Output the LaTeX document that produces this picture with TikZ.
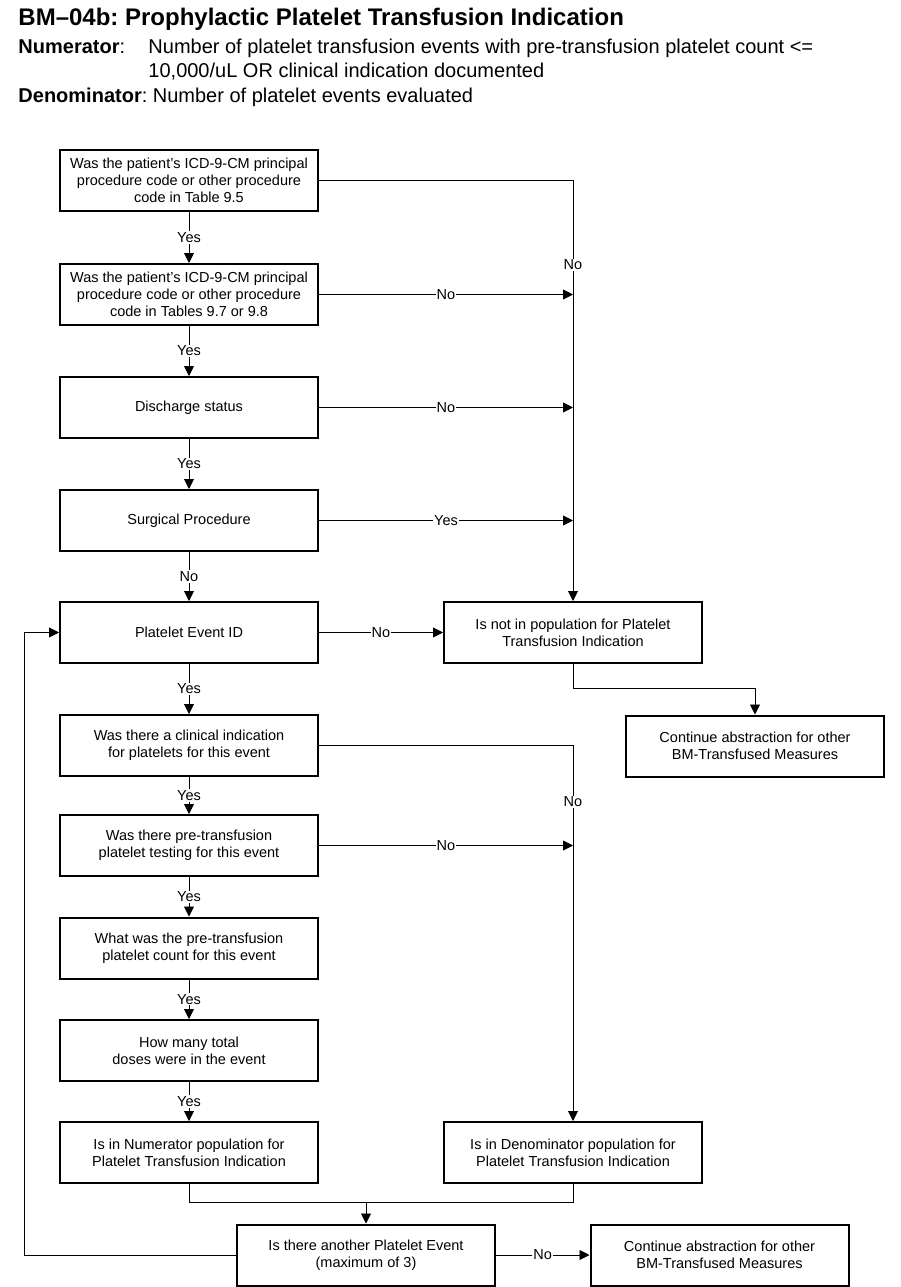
\documentclass[tikz,border=0pt]{standalone}
\usepackage{fontspec}
\setmainfont{Liberation Sans}
\usetikzlibrary{arrows.meta}
\frenchspacing

\newcommand\bmtitlefont{\fontsize{24}{28}\selectfont\bfseries}
\newcommand\bmsubfont{\fontsize{20}{24}\selectfont}
\newcommand\bmboxfont{\fontsize{14.5}{17}\selectfont}

\begin{document}
\begin{tikzpicture}[x=1pt,y=-1pt,
  box/.style={draw, line width=2pt, minimum width=258pt, minimum height=61pt,
    inner sep=2pt, align=center, font=\bmboxfont},
  lab/.style={fill=white, inner sep=1pt, font=\bmboxfont},
  arr/.style={-{Triangle[length=10pt,width=10pt]}},
  every path/.style={line width=0.9pt}]

\fill[white] (0,0) rectangle (901,1287);
\useasboundingbox (0,0) rectangle (901,1287);

% heading
\node[anchor=base west, inner sep=0pt] (title) at (18,26) {\bmtitlefont BM–04b: Prophylactic Platelet Transfusion Indication};
\node[anchor=base west, inner sep=0pt] (numhead) at (18,54) {\bmsubfont\textbf{Numerator}:};
\node[anchor=base west, inner sep=0pt] (numline1) at (148,54) {\bmsubfont Number of platelet transfusion events with pre-transfusion platelet count <=};
\node[anchor=base west, inner sep=0pt] (numline2) at (148,78) {\bmsubfont 10,000/uL OR clinical indication documented};
\node[anchor=base west, inner sep=0pt] (denhead) at (18,103) {\bmsubfont\textbf{Denominator}: Number of platelet events evaluated};

% left column
\node[box] at (189,180.5) (q1) {Was the patient’s ICD-9-CM principal\\procedure code or other procedure\\code in Table 9.5};
\node[box] at (189,294.5) (q2) {Was the patient’s ICD-9-CM principal\\procedure code or other procedure\\code in Tables 9.7 or 9.8};
\node[box] at (189,407.5) (q3) {Discharge status};
\node[box] at (189,520.5) (q4) {Surgical Procedure};
\node[box] at (189,632.5) (q5) {Platelet Event ID};
\node[box] at (189,745.5) (q6) {Was there a clinical indication\\for platelets for this event};
\node[box] at (189,845.5) (q7) {Was there pre-transfusion\\platelet testing for this event};
\node[box] at (189,948) (q8) {What was the pre-transfusion\\platelet count for this event};
\node[box] at (189,1050.5) (q9) {How many total\\doses were in the event};
\node[box] at (189,1152.5) (num) {Is in Numerator population for\\Platelet Transfusion Indication};

% right column
\node[box] at (573,632.5) (nopop) {Is not in population for Platelet\\Transfusion Indication};
\node[box] at (755,746) (cont1) {Continue abstraction for other\\BM-Transfused Measures};
\node[box] at (573,1152.5) (den) {Is in Denominator population for\\Platelet Transfusion Indication};

% bottom row
\node[box] at (366,1255) (q11) {Is there another Platelet Event\\(maximum of 3)};
\node[box] at (719.5,1255) (cont2) {Continue abstraction for other\\BM-Transfused Measures};

\coordinate (join) at (366,1202.5);
\coordinate (back) at (24,1255);

% main flow
\draw[arr] (q1) -- node[lab] {Yes} (q2);
\draw[arr] (q2) -- node[lab] {Yes} (q3);
\draw[arr] (q3) -- node[lab] {Yes} (q4);
\draw[arr] (q4) -- node[lab] {No} (q5);
\draw[arr] (q5) -- node[lab] {Yes} (q6);
\draw[arr] (q6) -- node[lab] {Yes} (q7);
\draw[arr] (q7) -- node[lab] {Yes} (q8);
\draw[arr] (q8) -- node[lab] {Yes} (q9);
\draw[arr] (q9) -- node[lab] {Yes} (num);

% exits to the right
\draw[arr] (q1) -| node[lab, pos=0.6] {No} (nopop);
\draw[arr] (q2) -- node[lab] {No} (q2 -| nopop);
\draw[arr] (q3) -- node[lab] {No} (q3 -| nopop);
\draw[arr] (q4) -- node[lab] {Yes} (q4 -| nopop);
\draw[arr] (q5) -- node[lab] {No} (nopop);
\draw[arr] (nopop.south) -- ++(0,24) -| (cont1.north);

\draw[arr] (q6) -| node[lab, pos=0.575] {No} (den);
\draw[arr] (q7) -- node[lab] {No} (q7 -| den);

% merge and loop
\draw (num) |- (join) -| (den);
\draw[arr] (join) -- (q11);
\draw[arr] (q11) -- node[lab] {No} (cont2);
\draw[arr] (q11) -- (back) |- (q5);

\end{tikzpicture}
\end{document}
